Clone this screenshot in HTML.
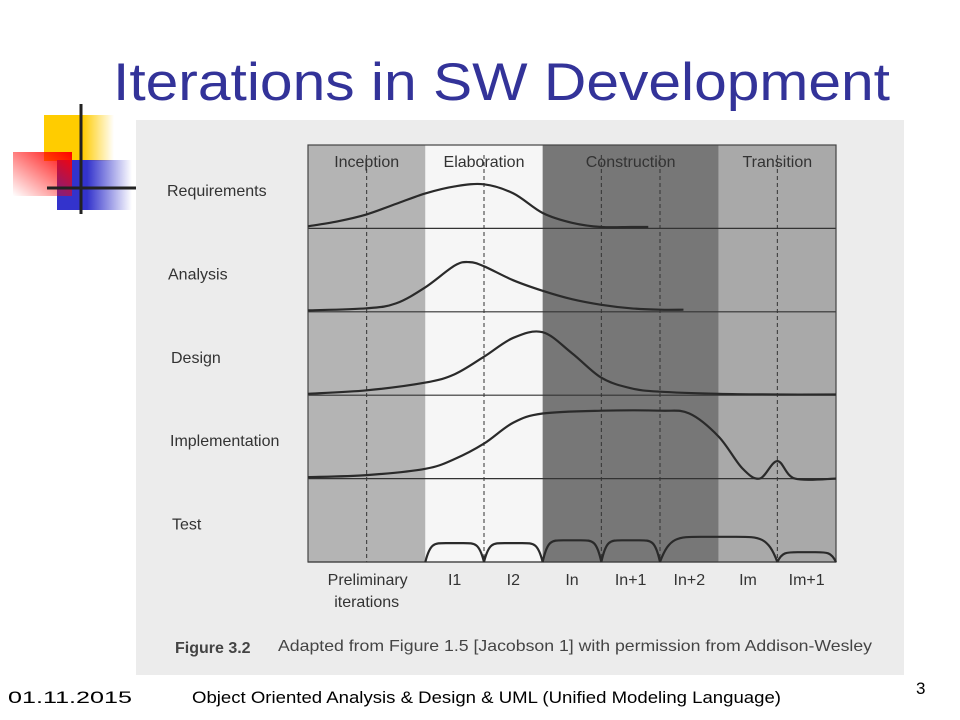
<!DOCTYPE html>
<html><head><meta charset="utf-8"><style>
html,body{margin:0;padding:0;background:#fff;}
svg{display:block;font-family:"Liberation Sans",sans-serif;}
</style></head><body>
<svg id="s" width="960" height="720" viewBox="0 0 960 720">
<defs>
<linearGradient id="gy" x1="0" x2="1"><stop offset="0.55" stop-color="#ffcc00"/><stop offset="1" stop-color="#ffcc00" stop-opacity="0"/></linearGradient>
<linearGradient id="gb" x1="0" x2="1"><stop offset="0.4" stop-color="#3333cc"/><stop offset="1" stop-color="#3333cc" stop-opacity="0"/></linearGradient>
<linearGradient id="gr" x1="1" y1="0" x2="0" y2="1"><stop offset="0" stop-color="#ff0000"/><stop offset="1" stop-color="#ff0000" stop-opacity="0"/></linearGradient>
</defs>
<g>
<rect x="44" y="115" width="70" height="46" fill="url(#gy)"/>
<rect x="57" y="160" width="75" height="50" fill="url(#gb)"/>
<rect x="13" y="152" width="59" height="44" fill="url(#gr)"/>
<line x1="81" y1="104" x2="81" y2="214" stroke="#222" stroke-width="3"/>
<line x1="47" y1="188" x2="136" y2="188" stroke="#222" stroke-width="3"/>
</g>
<text x="113" y="100" font-size="53" fill="#333399" textLength="777" lengthAdjust="spacingAndGlyphs">Iterations in SW Development</text>
<rect x="136" y="120" width="768" height="555" fill="#ececec"/>
<g id="chart"></g>
<text x="175" y="653" font-size="16" font-weight="bold" fill="#444">Figure 3.2</text>
<text x="278" y="651" font-size="16" fill="#444" textLength="594" lengthAdjust="spacingAndGlyphs">Adapted from Figure 1.5 [Jacobson 1] with permission from Addison-Wesley</text>
<text x="8" y="703" font-size="17" fill="#000" textLength="124" lengthAdjust="spacingAndGlyphs">01.11.2015</text>
<text x="192" y="703" font-size="17" fill="#000" textLength="589" lengthAdjust="spacingAndGlyphs">Object Oriented Analysis &amp; Design &amp; UML (Unified Modeling Language)</text>
<text x="916" y="694" font-size="17" fill="#000">3</text>
</svg>
<script>
const phases = ["Inception","Elaboration","Construction","Transition"];
const phaseEnds = [2,4,7,9];
const phaseColors = ["#b4b4b4","#f6f6f6","#777777","#a9a9a9"];
const disciplines = ["Requirements","Analysis","Design","Implementation","Test"];
const iterLabels = ["Preliminary","I1","I2","In","In+1","In+2","Im","Im+1"];
const iterLabelPos = [1,2.5,3.5,4.5,5.5,6.5,7.5,8.5];
const reqX = [0,0.5,1,1.5,2,2.5,3,3.5,4,4.5,5,5.5,5.8];
const reqV = [0.03,0.1,0.2,0.35,0.5,0.6,0.63,0.5,0.22,0.08,0.02,0.02,0.02];
const anaX = [0,1,1.5,2,2.5,2.75,3,3.5,4,4.5,5,5.5,6,6.4];
const anaV = [0.02,0.05,0.12,0.35,0.66,0.71,0.65,0.45,0.3,0.18,0.1,0.05,0.03,0.03];
const desX = [0,1,2,2.5,3,3.5,4,4.5,5,5.5,6,7,8,9];
const desV = [0.02,0.07,0.18,0.3,0.55,0.82,0.9,0.6,0.25,0.1,0.05,0.02,0.01,0.01];
const impX = [0,1,2,2.5,3,3.5,4,5,6,6.5,7,7.4,7.7,8,8.3,9];
const impV = [0.02,0.05,0.14,0.28,0.5,0.8,0.93,0.97,0.97,0.93,0.6,0.15,0.0,0.25,0.0,0.0];
const testStart = [2,3,4,5,6,8];
const testEnd = [3,4,5,6,8,9];
const testPeak = [0.27,0.27,0.31,0.31,0.36,0.14];

const NS="http://www.w3.org/2000/svg";
const g=document.getElementById('chart');
const X0=308,X1=836,Y0=145,ROWH=83.4,AMP=70;
const xs=i=>X0+(X1-X0)*i/9;
const rowBase=r=>Y0+ROWH*(r+1);
const ys=(r,v)=>rowBase(r)-v*AMP;
function mk(t,a){const e=document.createElementNS(NS,t);for(const k in a)e.setAttribute(k,a[k]);g.appendChild(e);return e;}
let prev=0;
phases.forEach((p,i)=>{
 const r=mk('rect',{x:xs(prev),y:Y0,width:xs(phaseEnds[i])-xs(prev),height:ROWH*5,fill:phaseColors[i]});
 
 
 const t=mk('text',{x:(xs(prev)+xs(phaseEnds[i]))/2,y:Y0+22,'font-size':16,'text-anchor':'middle',fill:'#333'});
 t.textContent=p;
 
 
 prev=phaseEnds[i];
});
for(let i=1;i<9;i++){ if(phaseEnds.includes(i))continue;
 const l=mk('line',{x1:xs(i),y1:Y0+10,x2:xs(i),y2:Y0+ROWH*5,stroke:'#333','stroke-dasharray':'4,3','stroke-width':1});
 
 
}
for(let r=0;r<5;r++){
 const l=mk('line',{x1:X0,y1:rowBase(r),x2:X1,y2:rowBase(r),stroke:'#333','stroke-width':1.2});
 
 
 const t=mk('text',{x:r==3?170:(r==4?172:167+(r==2?4:r==1?1:0)),y:rowBase(r)-ROWH+51,'font-size':16,fill:'#333'});
 t.textContent=disciplines[r];
 
 
}
mk('rect',{x:X0,y:Y0,width:X1-X0,height:ROWH*5,fill:'none',stroke:'#444','stroke-width':1.2});
function smooth(pts){let d='M'+pts[0][0]+','+pts[0][1];
 for(let i=0;i<pts.length-1;i++){const p0=pts[i-1]||pts[i],p1=pts[i],p2=pts[i+1],p3=pts[i+2]||p2;
  d+=' C'+(p1[0]+(p2[0]-p0[0])/6)+','+(p1[1]+(p2[1]-p0[1])/6)+' '+(p2[0]-(p3[0]-p1[0])/6)+','+(p2[1]-(p3[1]-p1[1])/6)+' '+p2[0]+','+p2[1];}
 return d;}
[[reqX,reqV],[anaX,anaV],[desX,desV],[impX,impV]].forEach((s,r)=>{
 const pts=s[0].map((x,i)=>[xs(x),ys(r,s[1][i])]);
 const p=mk('path',{d:smooth(pts),fill:'none',stroke:'#2a2a2a','stroke-width':2.2});
 
 
});
testStart.forEach((a,i)=>{
 const x1=xs(a),x2=xs(testEnd[i]),yb=rowBase(4),yp=ys(4,testPeak[i]),w=x2-x1;
 const d='M'+x1+','+yb+' C'+(x1+w*0.08)+','+yp+' '+(x1+w*0.15)+','+yp+' '+(x1+w*0.35)+','+yp+' L'+(x2-w*0.35)+','+yp+' C'+(x2-w*0.15)+','+yp+' '+(x2-w*0.08)+','+yp+' '+x2+','+yb;
 const p=mk('path',{d:d,fill:'none',stroke:'#2a2a2a','stroke-width':2.2});
 
 
});
iterLabels.forEach((l,i)=>{
 const t=mk('text',{x:xs(iterLabelPos[i])+(i==0?1:0),y:585,'font-size':16,'text-anchor':'middle',fill:'#333'});
 t.textContent=l;
 
 
});
const t2=mk('text',{x:xs(1),y:607,'font-size':16,'text-anchor':'middle',fill:'#333'});
t2.textContent='iterations';


</script>
</body></html>
